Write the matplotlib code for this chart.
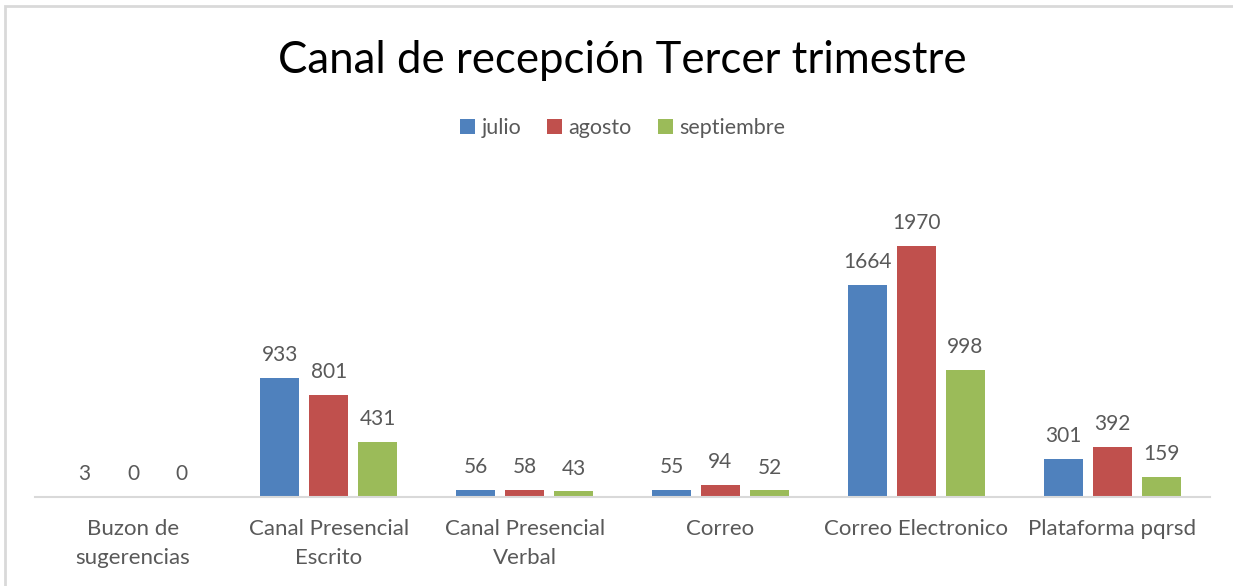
import numpy as np
import matplotlib.pyplot as plt
from matplotlib.patches import Rectangle

categories = ['Buzon de\nsugerencias', 'Canal Presencial\nEscrito', 'Canal Presencial\nVerbal',
              'Correo', 'Correo Electronico', 'Plataforma pqrsd']
months = ['julio', 'agosto', 'septiembre']
julio = [3, 933, 56, 55, 1664, 301]
agosto = [0, 801, 58, 94, 1970, 392]
septiembre = [0, 431, 43, 52, 998, 159]
colors = ['#4F81BD', '#C0504D', '#9BBB59']

plt.rcParams['font.family'] = ['Lato', 'DejaVu Sans']
text_color = '#595959'

fig = plt.figure(figsize=(12.33, 5.86), dpi=100)
ax = fig.add_axes([0.0284, 0.152, 0.953, 0.544])

x = np.arange(len(categories))
series = [julio, agosto, septiembre]
for i, (name, vals) in enumerate(zip(months, series)):
    bars = ax.bar(x + (i - 1) * 0.25, vals, width=0.2, color=colors[i], label=name)
    for b, v in zip(bars, vals):
        ax.annotate(str(v), (b.get_x() + b.get_width() / 2, b.get_height()),
                    xytext=(0, 9), textcoords='offset points', ha='center', va='bottom',
                    fontsize=15, color=text_color)

ax.set_xlim(-0.5, len(categories) - 0.5)
ax.set_ylim(0, 2500)
ax.set_xticks(x)
ax.set_xticklabels(categories, fontsize=16, color=text_color, linespacing=1.55)
ax.tick_params(axis='x', length=0, pad=16)
ax.set_yticks([])
for s in ['top', 'right', 'left']:
    ax.spines[s].set_visible(False)
ax.spines['bottom'].set_color('#D9D9D9')
ax.spines['bottom'].set_linewidth(1.5)

fig.text(0.505, 0.897, 'Canal de recepción Tercer trimestre', ha='center', va='center',
         fontsize=31.5, color='black')
fig.legend(loc='center', bbox_to_anchor=(0.505, 0.782), ncol=3, frameon=False,
           fontsize=15.5, handlelength=0.7, handleheight=0.7, handletextpad=0.3,
           columnspacing=1.2, labelcolor=text_color)

# chart frame
fig.patches.append(Rectangle((5 / 1233, -0.05), 1.1, 1 - 6 / 586 + 0.05,
                             transform=fig.transFigure, fill=False,
                             edgecolor='#D9D9D9', linewidth=2))

fig.savefig('out.png', dpi=100)
